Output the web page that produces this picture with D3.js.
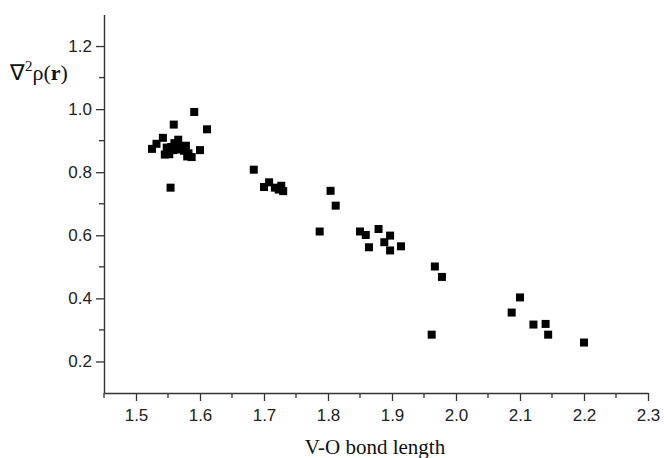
<!DOCTYPE html>
<html>
<head>
<meta charset="utf-8">
<script src="https://cdn.jsdelivr.net/npm/d3@7"></script>
<style>
  body { margin: 0; background: #fff; }
  svg { display: block; }
</style>
</head>
<body>
<div id="chart"></div>
<script>
// V-O bond length vs Laplacian of the density
const bondLength = [
  1.525, 1.532, 1.542, 1.545, 1.552, 1.555, 1.558, 1.562, 1.566, 1.568, 1.572, 1.575, 1.578, 1.582, 1.587, 1.580, 1.560, 1.548,
  1.591, 1.559, 1.611, 1.554, 1.600,
  1.684, 1.708, 1.700, 1.717, 1.727, 1.723, 1.730,
  1.804, 1.812, 1.787, 1.850, 1.859, 1.879, 1.897, 1.888, 1.864, 1.897, 1.914,
  1.967, 1.978, 1.962, 2.100, 2.087, 2.121, 2.140, 2.144, 2.200
];
const laplacian = [
  0.874, 0.890, 0.909, 0.856, 0.857, 0.880, 0.870, 0.885, 0.903, 0.872, 0.880, 0.868, 0.884, 0.860, 0.848, 0.850, 0.892, 0.878,
  0.991, 0.951, 0.936, 0.751, 0.870,
  0.808, 0.768, 0.753, 0.751, 0.757, 0.745, 0.740,
  0.741, 0.694, 0.612, 0.612, 0.601, 0.620, 0.599, 0.578, 0.562, 0.552, 0.565,
  0.501, 0.468, 0.285, 0.403, 0.355, 0.317, 0.319, 0.285, 0.260
];
const xTicks = [1.5, 1.6, 1.7, 1.8, 1.9, 2.0, 2.1, 2.2, 2.3];
const yTicks = [0.2, 0.4, 0.6, 0.8, 1.0, 1.2];

const data = bondLength.map((d, i) => ({ x: d, y: laplacian[i] }));

const width = 664, height = 458;
const svg = d3.select("#chart")
  .append("svg")
  .attr("width", width)
  .attr("height", height);

const x = d3.scaleLinear().domain([1.45, 2.3]).range([104, 648]);
const y = d3.scaleLinear().domain([0.1, 1.3]).range([393, 14.5]);

const axisColor = "#333";

// minor ticks between the labelled ones
const xMinor = d3.range(1.45, 2.3, 0.1).map(v => +v.toFixed(2));
const yMinor = d3.range(0.3, 1.3, 0.2).map(v => +v.toFixed(2));

// X axis
const gx = svg.append("g")
  .attr("transform", `translate(0,${y.range()[0]})`);
gx.call(d3.axisBottom(x).tickValues(xTicks).tickSize(8).tickSizeOuter(0).tickPadding(8)
    .tickFormat(d3.format(".1f")));
gx.append("g")
  .selectAll("line")
  .data(xMinor)
  .join("line")
  .attr("x1", d => x(d)).attr("x2", d => x(d))
  .attr("y1", 0).attr("y2", 5);

// Y axis
const gy = svg.append("g")
  .attr("transform", `translate(${x.range()[0]},0)`);
gy.call(d3.axisLeft(y).tickValues(yTicks).tickSize(8).tickSizeOuter(0).tickPadding(4)
    .tickFormat(d3.format(".1f")));
gy.append("g")
  .selectAll("line")
  .data(yMinor)
  .join("line")
  .attr("x1", -5).attr("x2", 0)
  .attr("y1", d => y(d)).attr("y2", d => y(d));

[gx, gy].forEach(g => {
  g.selectAll("path.domain").attr("stroke", axisColor).attr("stroke-width", 1.4);
  g.selectAll("line").attr("stroke", axisColor).attr("stroke-width", 1.3);
  g.selectAll("text")
    .attr("font-family", "'Liberation Sans', Arial, sans-serif")
    .attr("font-size", "17px")
    .attr("fill", "#222");
});

// points
const s = 8;
svg.append("g")
  .selectAll("rect")
  .data(data)
  .join("rect")
  .attr("x", d => x(d.x) - s / 2)
  .attr("y", d => y(d.y) - s / 2)
  .attr("width", s)
  .attr("height", s)
  .attr("fill", "#000");

// axis titles
svg.append("text")
  .attr("x", 375)
  .attr("y", 454)
  .attr("text-anchor", "middle")
  .attr("font-family", "'Liberation Serif', 'Times New Roman', serif")
  .attr("font-size", "21px")
  .attr("fill", "#111")
  .text("V-O bond length");

const yl = svg.append("text")
  .attr("x", 10)
  .attr("y", 80)
  .attr("font-family", "'Liberation Serif', 'Times New Roman', serif")
  .attr("font-size", "22px")
  .attr("fill", "#111");
yl.append("tspan").text("∇");
yl.append("tspan").attr("dy", -9).attr("font-size", "15px").text("2");
yl.append("tspan").attr("dy", 9).text("ρ(");
yl.append("tspan").attr("font-weight", "bold").text("r");
yl.append("tspan").text(")");
</script>
</body>
</html>
